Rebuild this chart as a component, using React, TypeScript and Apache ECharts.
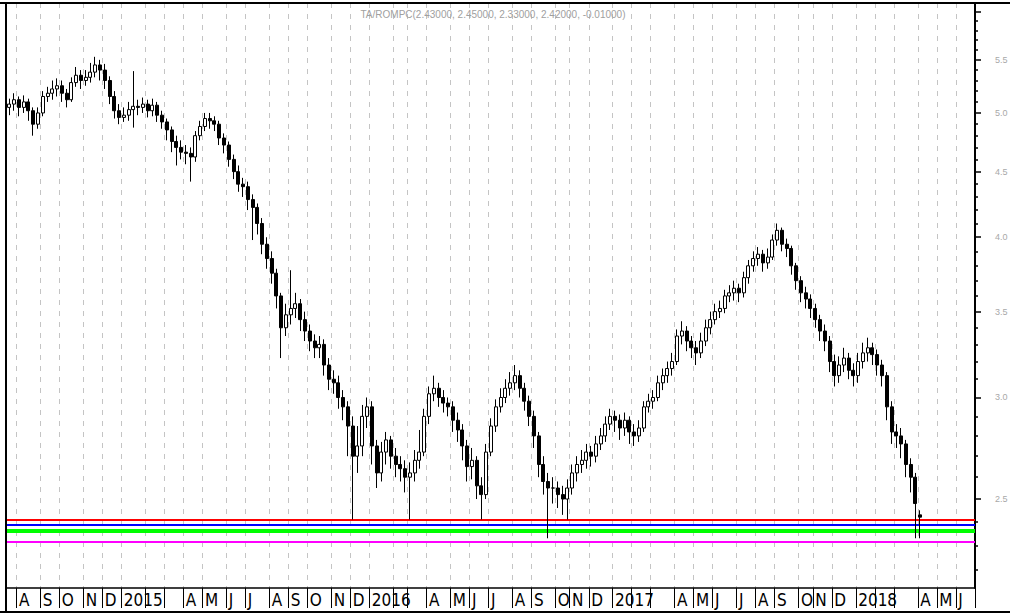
import React, { useEffect, useRef } from 'react';
import * as echarts from 'echarts';

// ---- categories: weekly bars (dated by Friday), Chinese holiday weeks removed ----
const firstFriday = '2014-07-18';
const fridayCount = 206;
const holidayWeeks = ['2016-02-12', '2016-10-07', '2017-10-06'];

const monthInitials = ['J', 'F', 'M', 'A', 'M', 'J', 'J', 'A', 'S', 'O', 'N', 'D'];
const hiddenLabelMonths = [2, 3];

// ---- price axis ticks ----
const majorTicks = [2.5, 3.0, 3.5, 4.0, 4.5, 5.0, 5.5, 6.0];
const labelTicks = [2.5, 3.0, 3.5, 4.0, 4.5, 5.0, 5.5];
const minorTicks = [
  2.2, 2.3, 2.4, 2.6, 2.7, 2.8, 2.9, 3.1, 3.2, 3.3, 3.4, 3.6, 3.7, 3.8, 3.9,
  4.1, 4.2, 4.3, 4.4, 4.6, 4.7, 4.8, 4.9, 5.1, 5.2, 5.3, 5.4, 5.6, 5.7, 5.8, 5.9,
];
const axisMin = 2.131;
const axisMax = 6.091;

// ---- horizontal levels ----
const levels = [
  { value: 2.41, color: '#ff0000', width: 2 },
  { value: 2.395, color: '#0000ff', width: 2 },
  { value: 2.365, color: '#00ff00', width: 4 },
  { value: 2.325, color: '#ff00ff', width: 2 },
];

const titleText = 'TA/ROMPC(2.43000, 2.45000, 2.33000, 2.42000, -0.01000)';

// ---- weekly OHLC ----
const opens = [
  5.05, 5.08, 5.12, 5.05, 5.10, 5.02, 4.90, 5.00, 5.15, 5.18, 5.22, 5.25, 5.18, 5.12, 5.28, 5.35, 5.30, 5.33, 5.38, 5.45,
  5.40, 5.30, 5.15, 5.02, 4.96, 4.98, 5.03, 5.06, 5.05, 5.08, 5.02, 5.07, 4.98, 4.92, 4.85, 4.75, 4.70, 4.66, 4.65, 4.62,
  4.80, 4.88, 4.95, 4.93, 4.90, 4.78, 4.72, 4.60, 4.50, 4.40, 4.38, 4.28, 4.22, 4.10, 3.95, 3.85, 3.75, 3.60, 3.40, 3.48,
  3.52, 3.55, 3.45, 3.38, 3.32, 3.28, 3.30, 3.18, 3.10, 3.08, 3.00, 2.95, 2.85, 2.70, 2.75, 2.90, 2.95, 2.75, 2.62, 2.72,
  2.78, 2.70, 2.66, 2.64, 2.60, 2.62, 2.68, 2.72, 2.90, 3.02, 3.05, 3.00, 2.97, 2.95, 2.88, 2.83, 2.75, 2.65, 2.68, 2.56,
  2.52, 2.72, 2.85, 2.95, 3.00, 3.05, 3.08, 3.12, 3.05, 2.98, 2.90, 2.80, 2.66, 2.58, 2.55, 2.55, 2.52, 2.50, 2.55, 2.62,
  2.66, 2.68, 2.72, 2.70, 2.76, 2.80, 2.86, 2.90, 2.88, 2.84, 2.88, 2.82, 2.80, 2.84, 2.95, 2.98, 3.00, 3.08, 3.12, 3.16,
  3.20, 3.35, 3.38, 3.32, 3.28, 3.25, 3.32, 3.40, 3.45, 3.50, 3.52, 3.60, 3.62, 3.65, 3.62, 3.72, 3.80, 3.85, 3.88, 3.82,
  3.86, 3.98, 4.05, 3.95, 3.92, 3.80, 3.70, 3.62, 3.58, 3.52, 3.45, 3.38, 3.32, 3.20, 3.12, 3.18, 3.22, 3.15, 3.12, 3.20,
  3.25, 3.28, 3.24, 3.18, 3.12, 2.95, 2.82, 2.80, 2.76, 2.66, 2.60, 2.43,
];
const closes = [
  5.08, 5.12, 5.05, 5.10, 5.02, 4.90, 5.00, 5.15, 5.18, 5.22, 5.25, 5.18, 5.12, 5.28, 5.35, 5.30, 5.33, 5.38, 5.45, 5.40,
  5.30, 5.15, 5.02, 4.96, 4.98, 5.03, 5.06, 5.05, 5.08, 5.02, 5.07, 4.98, 4.92, 4.85, 4.75, 4.70, 4.66, 4.65, 4.62, 4.80,
  4.88, 4.95, 4.93, 4.90, 4.78, 4.72, 4.60, 4.50, 4.40, 4.38, 4.28, 4.22, 4.10, 3.95, 3.85, 3.75, 3.60, 3.40, 3.48, 3.52,
  3.55, 3.45, 3.38, 3.32, 3.28, 3.30, 3.18, 3.10, 3.08, 3.00, 2.95, 2.85, 2.70, 2.75, 2.90, 2.95, 2.75, 2.62, 2.72, 2.78,
  2.70, 2.66, 2.64, 2.60, 2.62, 2.68, 2.72, 2.90, 3.02, 3.05, 3.00, 2.97, 2.95, 2.88, 2.83, 2.75, 2.65, 2.68, 2.56, 2.52,
  2.72, 2.85, 2.95, 3.00, 3.05, 3.08, 3.12, 3.05, 2.98, 2.90, 2.80, 2.66, 2.58, 2.55, 2.55, 2.52, 2.50, 2.55, 2.62, 2.66,
  2.68, 2.72, 2.70, 2.76, 2.80, 2.86, 2.90, 2.88, 2.84, 2.88, 2.82, 2.80, 2.84, 2.95, 2.98, 3.00, 3.08, 3.12, 3.16, 3.20,
  3.35, 3.38, 3.32, 3.28, 3.25, 3.32, 3.40, 3.45, 3.50, 3.52, 3.60, 3.62, 3.65, 3.62, 3.72, 3.80, 3.85, 3.88, 3.82, 3.86,
  3.98, 4.05, 3.95, 3.92, 3.80, 3.70, 3.62, 3.58, 3.52, 3.45, 3.38, 3.32, 3.20, 3.12, 3.18, 3.22, 3.15, 3.12, 3.20, 3.25,
  3.28, 3.24, 3.18, 3.12, 2.95, 2.82, 2.80, 2.76, 2.66, 2.60, 2.48, 2.42,
];
const lows = [
  4.98, 5.02, 4.97, 5.00, 4.93, 4.80, 4.86, 4.97, 5.10, 5.12, 5.15, 5.10, 5.05, 5.10, 5.24, 5.22, 5.25, 5.28, 5.33, 5.30,
  5.22, 5.08, 4.95, 4.90, 4.92, 4.93, 4.87, 4.98, 5.00, 4.96, 4.97, 4.92, 4.86, 4.76, 4.66, 4.55, 4.60, 4.56, 4.42, 4.58,
  4.76, 4.84, 4.86, 4.84, 4.72, 4.65, 4.54, 4.44, 4.34, 4.30, 4.20, 3.98, 4.02, 3.88, 3.78, 3.68, 3.52, 3.22, 3.35, 3.42,
  3.46, 3.38, 3.32, 3.26, 3.22, 3.22, 3.12, 3.04, 3.02, 2.94, 2.88, 2.70, 2.41, 2.62, 2.70, 2.84, 2.66, 2.55, 2.58, 2.66,
  2.64, 2.60, 2.58, 2.53, 2.41, 2.58, 2.64, 2.70, 2.86, 2.98, 2.95, 2.92, 2.90, 2.82, 2.77, 2.68, 2.58, 2.59, 2.50, 2.41,
  2.50, 2.70, 2.82, 2.92, 2.97, 3.01, 3.04, 3.00, 2.93, 2.85, 2.74, 2.60, 2.52, 2.33, 2.48, 2.46, 2.43, 2.41, 2.52, 2.58,
  2.62, 2.64, 2.65, 2.67, 2.73, 2.77, 2.83, 2.82, 2.78, 2.80, 2.76, 2.75, 2.77, 2.82, 2.92, 2.94, 2.98, 3.04, 3.08, 3.12,
  3.18, 3.30, 3.26, 3.22, 3.18, 3.22, 3.29, 3.36, 3.42, 3.46, 3.49, 3.56, 3.57, 3.56, 3.59, 3.68, 3.76, 3.80, 3.76, 3.78,
  3.84, 3.94, 3.90, 3.86, 3.74, 3.64, 3.56, 3.52, 3.46, 3.40, 3.32, 3.26, 3.14, 3.06, 3.08, 3.14, 3.10, 3.06, 3.08, 3.16,
  3.20, 3.18, 3.12, 3.06, 2.88, 2.76, 2.74, 2.69, 2.60, 2.53, 2.33, 2.33,
];
const highs = [
  5.13, 5.18, 5.15, 5.16, 5.13, 5.05, 5.05, 5.20, 5.24, 5.30, 5.32, 5.30, 5.22, 5.33, 5.43, 5.40, 5.40, 5.47, 5.53, 5.50,
  5.46, 5.34, 5.20, 5.08, 5.05, 5.10, 5.39, 5.12, 5.14, 5.12, 5.13, 5.10, 5.02, 4.95, 4.88, 4.80, 4.76, 4.72, 4.70, 4.84,
  4.93, 5.00, 5.00, 4.97, 4.93, 4.82, 4.75, 4.64, 4.55, 4.45, 4.42, 4.32, 4.25, 4.14, 4.00, 3.90, 3.78, 3.62, 3.55, 3.77,
  3.62, 3.58, 3.50, 3.42, 3.36, 3.35, 3.33, 3.22, 3.15, 3.12, 3.04, 2.98, 2.90, 2.85, 2.96, 3.00, 2.98, 2.78, 2.77, 2.82,
  2.80, 2.74, 2.70, 2.68, 2.67, 2.73, 2.83, 2.94, 3.06, 3.12, 3.08, 3.04, 3.00, 2.98, 2.92, 2.86, 2.78, 2.74, 2.70, 2.60,
  2.76, 2.89, 2.99, 3.05, 3.10, 3.14, 3.18, 3.15, 3.08, 3.01, 2.93, 2.82, 2.70, 2.62, 2.60, 2.58, 2.56, 2.59, 2.66, 2.70,
  2.73, 2.76, 2.75, 2.80, 2.84, 2.90, 2.94, 2.93, 2.91, 2.92, 2.90, 2.86, 2.88, 2.98, 3.02, 3.04, 3.12, 3.16, 3.20, 3.25,
  3.39, 3.44, 3.41, 3.35, 3.32, 3.37, 3.45, 3.50, 3.55, 3.57, 3.64, 3.67, 3.70, 3.68, 3.76, 3.84, 3.90, 3.93, 3.91, 3.92,
  4.02, 4.10, 4.07, 3.99, 3.94, 3.82, 3.73, 3.66, 3.61, 3.55, 3.48, 3.42, 3.35, 3.24, 3.23, 3.28, 3.25, 3.19, 3.25, 3.31,
  3.34, 3.31, 3.27, 3.21, 3.14, 2.98, 2.86, 2.84, 2.78, 2.69, 2.62, 2.45,
];

function buildWeeks(): string[] {
  const out: string[] = [];
  const [y, m, d] = firstFriday.split('-').map(Number);
  const t0 = Date.UTC(y, m - 1, d);
  for (let k = 0; k < fridayCount; k++) {
    const s = new Date(t0 + k * 7 * 86400000).toISOString().slice(0, 10);
    if (!holidayWeeks.includes(s)) out.push(s);
  }
  return out;
}

export default function App() {
  const ref = useRef<HTMLDivElement>(null);

  useEffect(() => {
    if (!ref.current) return;
    const chart = echarts.init(ref.current, undefined, { renderer: 'svg' });
    const weeks = buildWeeks();
    const monthOf = (s: string) => Number(s.slice(5, 7));
    const isMonthStart = (i: number) => i > 0 && i < weeks.length && monthOf(weeks[i]) !== monthOf(weeks[i - 1]);
    const showLabel = (i: number) => isMonthStart(i) && !hiddenLabelMonths.includes(monthOf(weeks[i]));

    const candles = opens.map((o, i) => [
      Math.log(o),
      Math.log(closes[i]),
      Math.log(lows[i]),
      Math.log(highs[i]),
    ]);

    const narrow = "'Liberation Sans Narrow', 'DejaVu Sans Condensed', 'Liberation Sans', Arial, sans-serif";

    chart.setOption({
      animation: false,
      backgroundColor: '#ffffff',
      grid: { left: 7, right: 35, top: 3, bottom: 28, containLabel: false, outerBoundsMode: 'none' },
      xAxis: {
        type: 'category',
        data: weeks,
        boundaryGap: true,
        axisLine: { show: true, lineStyle: { color: '#000', width: 1.5 } },
        axisTick: {
          show: true,
          interval: (i: number) => isMonthStart(i),
          length: 20,
          lineStyle: { color: '#000', width: 1 },
        },
        axisLabel: {
          show: true,
          interval: (i: number) => showLabel(i),
          formatter: (v: string) => {
            const mo = monthOf(v);
            return mo === 1 ? v.slice(0, 4) : monthInitials[mo - 1];
          },
          color: '#000',
          fontSize: 17,
          fontFamily: narrow,
          align: 'left',
          verticalAlign: 'top',
          margin: 3,
          hideOverlap: false,
        },
        splitLine: {
          show: true,
          interval: (i: number) => isMonthStart(i),
          lineStyle: { color: '#c4c4c4', width: 1, type: [5, 6] },
        },
      },
      yAxis: [
        {
          type: 'value',
          position: 'right',
          min: Math.log(axisMin),
          max: Math.log(axisMax),
          scale: true,
          axisLine: { show: true, lineStyle: { color: '#000', width: 2 } },
          axisTick: {
            show: true,
            inside: false,
            length: 6,
            customValues: majorTicks.map((v) => Math.log(v)),
            lineStyle: { color: '#000', width: 1.5 },
          },
          axisLabel: {
            show: true,
            customValues: labelTicks.map((v) => Math.log(v)),
            formatter: (v: number) => Math.exp(v).toFixed(1),
            color: '#a8a8a8',
            fontSize: 9,
            fontFamily: 'Liberation Sans, Arial, sans-serif',
            margin: 20,
            align: 'left',
          },
          splitLine: { show: false },
        },
        {
          type: 'value',
          position: 'right',
          min: Math.log(axisMin),
          max: Math.log(axisMax),
          scale: true,
          axisLine: { show: false },
          axisTick: {
            show: true,
            inside: false,
            length: 3,
            customValues: minorTicks.map((v) => Math.log(v)),
            lineStyle: { color: '#000', width: 1.5 },
          },
          axisLabel: { show: false },
          splitLine: { show: false },
        },
      ],
      series: [
        {
          type: 'line',
          name: 'levels',
          data: [],
          z: 1,
          silent: true,
          markLine: {
            silent: true,
            symbol: ['none', 'none'],
            label: { show: false },
            animation: false,
            data: levels.map((l) => ({
              yAxis: Math.log(l.value),
              lineStyle: { color: l.color, width: l.width, type: 'solid' },
            })),
          },
        },
        {
          type: 'candlestick',
          name: 'TA',
          data: candles,
          z: 5,
          barWidth: 3.5,
          itemStyle: {
            color: '#ffffff',
            color0: '#000000',
            borderColor: '#000000',
            borderColor0: '#000000',
            borderColorDoji: '#000000',
            borderWidth: 1,
          },
        },
      ],
      graphic: [
        { type: 'line', silent: true, z: 100, shape: { x1: 0, y1: 3, x2: 1010, y2: 3 }, style: { stroke: '#000', lineWidth: 2 } },
        { type: 'line', silent: true, z: 100, shape: { x1: 0, y1: 612, x2: 1010, y2: 612 }, style: { stroke: '#000', lineWidth: 2 } },
        { type: 'line', silent: true, z: 100, shape: { x1: 6, y1: 3, x2: 6, y2: 612 }, style: { stroke: '#000', lineWidth: 2 } },
        {
          type: 'text',
          silent: true,
          z: 100,
          x: 493,
          y: 14,
          style: {
            text: titleText,
            fill: '#a0a0a0',
            font: '10px "Liberation Sans", Arial, sans-serif',
            textAlign: 'center',
            textVerticalAlign: 'middle',
            align: 'center',
            verticalAlign: 'middle',
          },
        },
      ],
    });

    return () => chart.dispose();
  }, []);

  return (
    <div
      ref={ref}
      style={{ position: 'absolute', left: 0, top: 0, width: 1010, height: 616, background: '#fff' }}
    />
  );
}
